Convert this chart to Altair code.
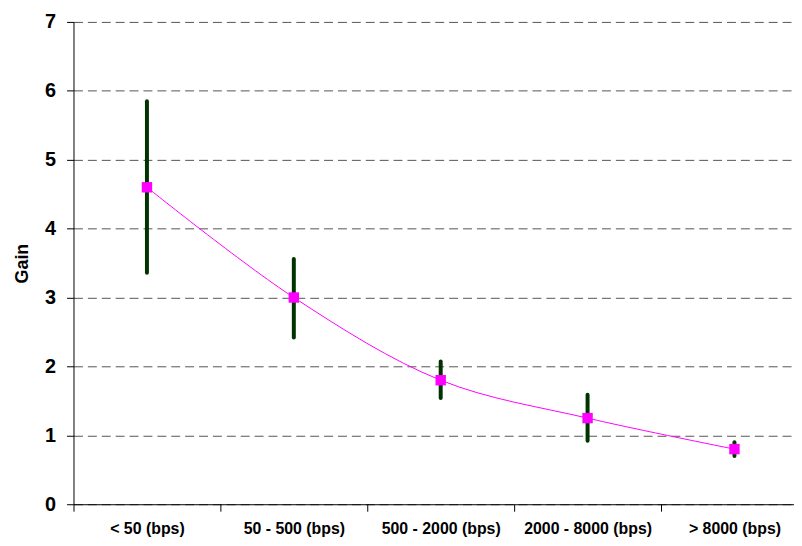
import altair as alt
import pandas as pd

categories = ["< 50 (bps)", "50 - 500 (bps)", "500 - 2000 (bps)", "2000 - 8000 (bps)", "> 8000 (bps)"]
gain_mean = [4.6, 3.0, 1.8, 1.25, 0.8]
gain_low = [3.36, 2.42, 1.54, 0.92, 0.70]
gain_high = [5.85, 3.56, 2.07, 1.59, 0.90]
y_ticks = [0, 1, 2, 3, 4, 5, 6, 7]

df = pd.DataFrame({"cat": categories, "mean": gain_mean, "lo": gain_low, "hi": gain_high})

FONT = "Liberation Sans"

x_enc = alt.X(
    "cat:N",
    sort=categories,
    scale=alt.Scale(range=[0, 740], paddingInner=0, paddingOuter=0),
    axis=alt.Axis(
        title=None,
        labelAngle=0,
        tickBand="extent",
        tickSize=7,
        domainColor="black",
        tickColor="black",
        labelColor="black",
        labelFont=FONT,
        labelFontWeight="bold",
        labelFontSize=16,
        labelPadding=9,
        grid=False,
    ),
)

y_scale = alt.Scale(domain=[0, 7], nice=False)
y_axis = alt.Axis(
    values=y_ticks,
    grid=True,
    gridDash=[9, 5],
    gridColor="#555555",
    gridWidth=1,
    domainColor="black",
    tickColor="black",
    tickSize=7,
    labelColor="black",
    labelFont=FONT,
    labelFontWeight="bold",
    labelFontSize=20,
    labelPadding=11,
    title="Gain",
    titlePadding=13,
)

base = alt.Chart(df)

bars = base.mark_rule(color="#003300", strokeWidth=4, strokeCap="round").encode(
    x=x_enc,
    y=alt.Y("lo:Q", scale=y_scale, axis=y_axis),
    y2="hi:Q",
)

line = base.mark_line(color="#FF00FF", strokeWidth=1, interpolate="catmull-rom").encode(
    x=x_enc,
    y=alt.Y("mean:Q", scale=y_scale, axis=y_axis),
)

points = base.mark_point(shape="square", filled=True, color="#FF00FF", size=110, opacity=1).encode(
    x=x_enc,
    y=alt.Y("mean:Q", scale=y_scale, axis=y_axis),
)

chart = (
    alt.layer(bars, line, points)
    .properties(
        width=726,
        height=486,
        autosize=alt.AutoSizeParams(type="none"),
        padding={"left": 66, "top": 12, "right": 0, "bottom": 32},
        background="white",
    )
    .configure_view(stroke=None)
    .configure_axisY(
        titleFont=FONT,
        titleFontWeight="bold",
        titleFontSize=18,
        titleColor="black",
    )
)

chart.save("out.html", embed_options={"renderer": "svg", "actions": False})
